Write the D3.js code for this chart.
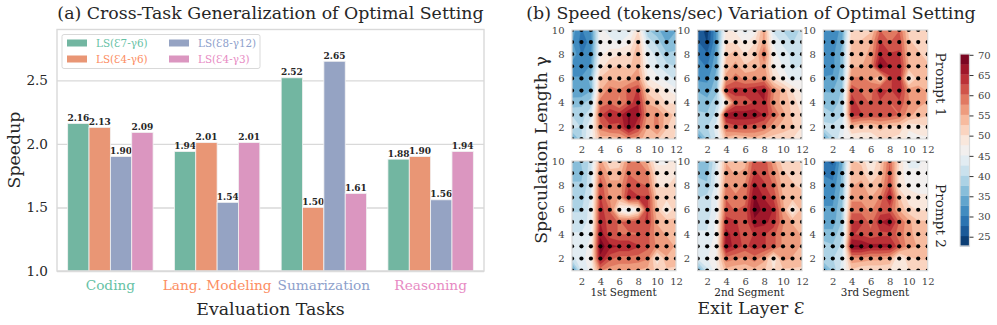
<!DOCTYPE html>
<html>
<head>
<meta charset="utf-8">
<script src="https://cdn.jsdelivr.net/npm/d3@7"></script>
<style>
  html, body { margin: 0; padding: 0; background: #fff; }
  svg { display: block; }
  text { font-family: "DejaVu Serif", serif; fill: #262626; }
</style>
</head>
<body>
<div id="chart"></div>
<script>
// bar chart data
const tasks = ['Coding', 'Lang. Modeling', 'Sumarization', 'Reasoning'];
const seriesNames = ['LS(Ɛ7-γ6)', 'LS(Ɛ4-γ6)', 'LS(Ɛ8-γ12)', 'LS(Ɛ4-γ3)'];
const ls7y6 = [2.16, 1.94, 2.52, 1.88];
const ls4y6 = [2.13, 2.01, 1.50, 1.90];
const ls8y12 = [1.90, 1.54, 2.65, 1.56];
const ls4y3 = [2.09, 2.01, 1.61, 1.94];
const speedupTicks = [1.0, 1.5, 2.0, 2.5];

// heatmap data, rows run from gamma 10 down to gamma 1, columns exit layer 1..12
const prompt1Seg1 = [
  34,30,32,46,44,42,44,50,38,36,33,35,
  33,29,31,47,46,45,47,53,42,39,35,37,
  35,30,32,47,49,50,50,55,44,42,38,38,
  31,31,33,49,52,53,52,55,46,43,41,40,
  33,33,36,53,55,54,55,57,48,46,44,42,
  34,33,35,55,59,58,61,63,52,50,48,46,
  36,37,39,59,60,57,61,65,55,53,50,50,
  40,39,42,62,65,64,68,66,57,58,54,52,
  42,40,45,59,62,62,68,63,55,59,53,50,
  32,40,46,54,53,54,57,56,54,53,51,50];
const prompt1Seg2 = [
  27,24,33,48,47,44,46,56,42,40,38,41,
  28,25,33,50,50,47,50,56,45,42,40,42,
  30,28,34,52,54,50,52,60,46,44,42,42,
  31,30,35,54,56,53,54,56,48,45,42,43,
  32,32,36,56,59,57,57,58,50,47,44,45,
  35,34,37,63,64,64,65,66,58,54,50,47,
  37,36,40,48,61,61,63,65,57,54,52,48,
  38,38,41,67,67,67,67,65,60,56,52,50,
  39,40,44,60,62,62,61,60,56,54,53,50,
  31,38,43,54,52,53,54,52,51,51,50,49];
const prompt1Seg3 = [
  33,30,34,51,51,52,60,57,60,52,52,51,
  32,31,35,53,53,55,63,60,62,53,52,50,
  33,32,36,54,54,56,65,63,63,54,53,52,
  31,32,36,55,55,57,69,65,65,55,54,53,
  33,33,37,58,58,57,50,62,65,47,54,53,
  35,35,38,62,60,59,65,62,65,57,56,55,
  37,36,39,64,61,60,62,60,62,58,56,55,
  39,38,40,64,63,62,62,62,60,56,54,53,
  41,41,43,54,52,52,54,52,52,48,49,50,
  32,40,45,47,48,48,50,50,49,47,47,47];
const prompt2Seg1 = [
  36,38,41,56,50,51,58,58,54,47,47,50,
  37,37,42,59,54,54,60,58,58,49,49,50,
  38,38,42,62,56,56,62,61,60,50,50,51,
  39,39,43,63,57,55,65,63,63,52,51,52,
  40,40,44,64,60,47,43,48,63,53,47,52,
  41,41,44,65,61,60,61,62,63,55,54,53,
  43,43,45,67,61,60,60,60,61,56,55,54,
  44,44,46,69,66,65,65,63,61,57,56,55,
  42,44,47,67,61,59,59,59,58,48,55,54,
  31,43,46,58,56,56,56,55,54,52,52,52];
const prompt2Seg2 = [
  37,36,43,55,53,54,62,62,56,51,51,50,
  37,37,44,56,55,56,63,62,58,53,52,50,
  39,38,44,58,57,58,66,63,60,54,53,52,
  40,41,45,60,58,59,68,65,62,55,54,54,
  41,41,45,61,60,61,69,67,65,56,47,54,
  42,42,46,64,63,61,67,66,64,58,55,54,
  43,43,46,66,64,61,63,63,61,57,56,55,
  44,44,47,67,64,62,64,63,61,57,56,55,
  43,45,48,59,58,57,59,56,48,56,55,54,
  33,42,47,54,53,53,54,53,50,52,52,52];
const prompt2Seg3 = [
  28,27,35,53,52,47,52,60,50,44,44,47,
  30,29,36,54,54,49,53,61,49,46,46,47,
  31,31,36,55,56,53,55,62,49,47,47,47,
  32,32,37,57,57,55,58,66,53,49,48,48,
  33,33,38,59,59,57,61,61,55,51,50,50,
  34,34,38,63,63,59,65,67,60,56,53,53,
  36,36,40,63,62,61,62,62,59,56,54,54,
  39,38,41,68,68,66,66,66,61,56,55,54,
  40,40,43,57,57,56,56,55,47,52,53,53,
  32,38,44,52,50,50,50,50,49,50,50,50];
const exitLayers = d3.range(1, 13);
const gammas = d3.range(10, 0, -1);
const axisTicks = [2, 4, 6, 8, 10, 12];
const gammaTicks = [2, 4, 6, 8, 10];
const colorTicks = [25, 30, 35, 40, 45, 50, 55, 60, 65, 70];
const levelMin = 22.7, levelMax = 70.2, levelStep = 2.5;

const W = 997, H = 325;
const grey = '#d9d9d9';
const barColors = ['#72b6a1', '#e99675', '#95a3c3', '#db96c0'];
const textColors = ['#66c2a5', '#fc8d62', '#8da0cb', '#e78ac3'];
const bigFont = '17.35px';

const svg = d3.select('#chart').append('svg').attr('width', W).attr('height', H);

//---- (a) bars
const barBox = { left: 57, right: 484, top: 29.5, bottom: 271 };
const series = [ls7y6, ls4y6, ls8y12, ls4y3];
const x0 = d3.scaleBand().domain(tasks).range([barBox.left, barBox.right]).paddingInner(0.2).paddingOuter(0.1);
const x1 = d3.scaleBand().domain(d3.range(4)).range([0, x0.bandwidth()]);
const yBar = d3.scaleLinear().domain([1, 2.9]).range([barBox.bottom, barBox.top]);

svg.append('text').attr('x', (barBox.left + barBox.right) / 2).attr('y', 18.5)
  .attr('text-anchor', 'middle').style('font-size', bigFont)
  .text('(a) Cross-Task Generalization of Optimal Setting');

const yAxisG = svg.append('g').attr('transform', `translate(${barBox.left},0)`)
  .call(d3.axisLeft(yBar).tickValues(speedupTicks).tickFormat(d3.format('.1f'))
    .tickSize(-(barBox.right - barBox.left)).tickPadding(9));
yAxisG.select('.domain').remove();
yAxisG.selectAll('line').attr('stroke', grey).attr('stroke-width', 1.4);
yAxisG.selectAll('text').style('font-size', '13.6px');

series.forEach((vals, s) => {
  svg.append('g').selectAll('rect').data(vals).join('rect')
    .attr('x', (d, i) => x0(tasks[i]) + x1(s))
    .attr('y', d => yBar(d))
    .attr('width', x1.bandwidth())
    .attr('height', d => yBar(1) - yBar(d))
    .attr('fill', barColors[s])
    .attr('stroke', '#f2f2f2').attr('stroke-width', 0.8);
  svg.append('g').selectAll('text').data(vals).join('text')
    .attr('x', (d, i) => x0(tasks[i]) + x1(s) + x1.bandwidth() / 2)
    .attr('y', d => yBar(d) - 2.5)
    .attr('text-anchor', 'middle')
    .style('font-size', '9px').style('font-weight', 'bold')
    .text(d => d.toFixed(2));
});

svg.append('rect').attr('x', barBox.left).attr('y', barBox.top)
  .attr('width', barBox.right - barBox.left).attr('height', barBox.bottom - barBox.top)
  .attr('fill', 'none').attr('stroke', grey).attr('stroke-width', 1.4);

const xAxisG = svg.append('g').attr('transform', `translate(0,${barBox.bottom})`)
  .call(d3.axisBottom(x0).tickSize(0).tickPadding(9));
xAxisG.select('.domain').remove();
xAxisG.selectAll('text').style('font-size', '13.7px')
  .style('fill', (d, i) => textColors[i]);

svg.append('text').attr('x', 270.5).attr('y', 314.5).attr('text-anchor', 'middle')
  .style('font-size', bigFont).text('Evaluation Tasks');
svg.append('text').attr('transform', 'translate(19.5,150) rotate(-90)').attr('text-anchor', 'middle')
  .style('font-size', bigFont).text('Speedup');

// legend
const legend = svg.append('g');
legend.append('rect').attr('x', 62).attr('y', 34.5).attr('width', 198).attr('height', 34).attr('rx', 2)
  .attr('fill', '#fff').attr('fill-opacity', 0.8).attr('stroke', grey);
const legendItems = seriesNames.map((name, i) => ({
  name, i, lx: i < 2 ? 67 : 169, ly: i % 2 === 0 ? 39.5 : 55.5
}));
legend.selectAll('rect.h').data(legendItems).join('rect').attr('class', 'h')
  .attr('x', d => d.lx).attr('y', d => d.ly).attr('width', 20).attr('height', 7)
  .attr('fill', d => barColors[d.i]);
legend.selectAll('text').data(legendItems).join('text')
  .attr('x', d => d.lx + 29).attr('y', d => d.ly + 7.5)
  .style('font-size', '10.4px').style('fill', d => textColors[d.i])
  .text(d => d.name);

//---- (b) heatmaps
const panelXs = [[572, 676], [697.7, 802], [823.3, 927.7]];
const panelYs = [[30, 139], [161, 270.7]];
const panels = [
  { data: prompt1Seg1, col: 0, row: 0 },
  { data: prompt1Seg2, col: 1, row: 0 },
  { data: prompt1Seg3, col: 2, row: 0 },
  { data: prompt2Seg1, col: 0, row: 1 },
  { data: prompt2Seg2, col: 1, row: 1 },
  { data: prompt2Seg3, col: 2, row: 1 }
];
const levels = d3.range(levelMin, levelMax, levelStep);
const color = v => d3.interpolateRdBu(1 - (v - levelMin) / (levelMax - levelMin));

svg.append('text').attr('x', 751).attr('y', 18.5).attr('text-anchor', 'middle')
  .style('font-size', bigFont).text('(b) Speed (tokens/sec) Variation of Optimal Setting');

panels.forEach((p, n) => {
  const [l, r] = panelXs[p.col];
  const [t, b] = panelYs[p.row];
  const x = d3.scaleLinear().domain([1, 12]).range([l, r]);
  const y = d3.scaleLinear().domain([1, 10]).range([b, t]);
  const g = svg.append('g');
  const clipId = 'clip' + n;
  g.append('clipPath').attr('id', clipId).append('rect')
    .attr('x', l).attr('y', t).attr('width', r - l).attr('height', b - t);

  // d3.contours puts grid value i at i + 0.5
  const path = d3.geoPath(d3.geoTransform({
    point: function (cx, cy) { this.stream.point(x(cx + 0.5), y(10 - (cy - 0.5))); }
  }));
  const polys = d3.contours().size([12, 10]).thresholds(levels)(p.data);
  const inner = g.append('g').attr('clip-path', `url(#${clipId})`);
  inner.selectAll('path').data(polys).join('path')
    .attr('d', path)
    .attr('fill', d => color(d.value + levelStep / 2))
    .attr('stroke', d => color(d.value + levelStep / 2)).attr('stroke-width', 0.3);

  const dots = d3.cross(exitLayers, gammas);
  inner.append('g').selectAll('circle').data(dots).join('circle')
    .attr('cx', d => x(d[0])).attr('cy', d => y(d[1])).attr('r', 2.1).attr('fill', '#000');

  g.append('rect').attr('x', l).attr('y', t).attr('width', r - l).attr('height', b - t)
    .attr('fill', 'none').attr('stroke', grey).attr('stroke-width', 1.2);

  const ax = g.append('g').attr('transform', `translate(0,${b})`)
    .call(d3.axisBottom(x).tickValues(axisTicks).tickSize(0).tickPadding(7));
  const ay = g.append('g').attr('transform', `translate(${l},0)`)
    .call(d3.axisLeft(y).tickValues(gammaTicks).tickSize(0).tickPadding(7.5));
  [ax, ay].forEach(a => {
    a.select('.domain').remove();
    a.selectAll('text').style('font-size', '10px').style('fill', '#444');
  });
});

['1st Segment', '2nd Segment', '3rd Segment'].forEach((s, i) => {
  svg.append('text').attr('x', (panelXs[i][0] + panelXs[i][1]) / 2 - 0.5).attr('y', 295.5)
    .attr('text-anchor', 'middle').style('font-size', '10.4px').text(s);
});

svg.append('text').attr('x', 751).attr('y', 314).attr('text-anchor', 'middle')
  .style('font-size', bigFont).text('Exit Layer Ɛ');
svg.append('text').attr('transform', 'translate(546.5,150) rotate(-90)').attr('text-anchor', 'middle')
  .style('font-size', bigFont).text('Speculation Length γ');
svg.append('text').attr('transform', 'translate(935.5,84.5) rotate(90)').attr('text-anchor', 'middle')
  .style('font-size', '13.6px').text('Prompt 1');
svg.append('text').attr('transform', 'translate(935.5,216) rotate(90)').attr('text-anchor', 'middle')
  .style('font-size', '13.6px').text('Prompt 2');

// colorbar
const cbLeft = 960, cbRight = 969.5;
const yCb = d3.scaleLinear().domain([levelMin, levelMax]).range([246, 54]);
svg.append('g').selectAll('rect').data(levels).join('rect')
  .attr('x', cbLeft).attr('width', cbRight - cbLeft)
  .attr('y', d => yCb(d + levelStep))
  .attr('height', d => yCb(d) - yCb(d + levelStep) + 0.3)
  .attr('fill', d => color(d + levelStep / 2));
svg.append('rect').attr('x', cbLeft).attr('y', 54).attr('width', cbRight - cbLeft).attr('height', 192)
  .attr('fill', 'none').attr('stroke', grey).attr('stroke-width', 1.2);
const cbAxis = svg.append('g').attr('transform', `translate(${cbRight},0)`)
  .call(d3.axisRight(yCb).tickValues(colorTicks).tickSize(4).tickPadding(4.5));
cbAxis.select('.domain').remove();
cbAxis.selectAll('line').attr('stroke', '#333');
cbAxis.selectAll('text').style('font-size', '10px').style('fill', '#444');
</script>
</body>
</html>
